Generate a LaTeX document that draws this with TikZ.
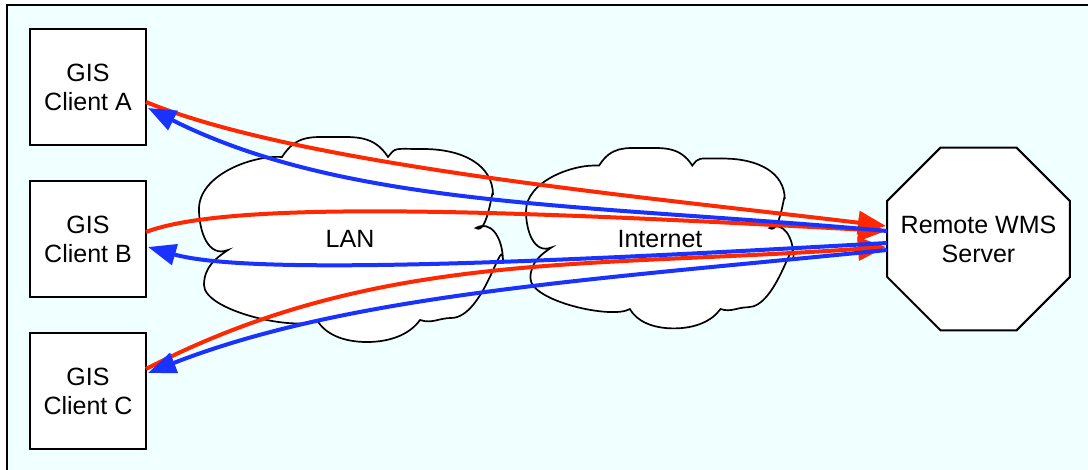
\documentclass[tikz,border=0pt]{standalone}
\usepackage{fontspec}
\setmainfont{Liberation Sans}
\usetikzlibrary{arrows.meta,calc,shapes.geometric}

\definecolor{paneback}{RGB}{240,255,255}
\definecolor{reqred}{RGB}{255,40,0}
\definecolor{respblue}{RGB}{25,50,255}
\newcommand\diagfont{\fontsize{12.5}{14.5}\selectfont}

\tikzset{
  client/.style={draw,line width=1pt,fill=white,minimum width=58pt,minimum height=58pt,
    inner sep=0pt,outer sep=0pt,align=center,font=\diagfont},
  server/.style={draw,line width=1pt,fill=white,regular polygon,regular polygon sides=8,
    minimum size=99pt,inner sep=0pt,outer sep=0pt},
  servertext/.style={align=center,font=\diagfont},
  cloudline/.style={draw,fill=white,line width=0.85pt},
  req/.style={draw=reqred,line width=2pt,-{Triangle[length=14pt,width=11.5pt]}},
  resp/.style={draw=respblue,line width=2pt,-{Triangle[length=14pt,width=10.5pt]}},
  % six-lobed cloud outline, origin at its top-left corner
  cloudbody/.pic={
    \path[cloudline] (83,-20) .. controls +(14,22) and +(-22,0) .. (134,0)
      .. controls +(22,0) and +(-14,22) .. (189,-20)
      .. controls +(8,10) and +(-30,0) .. (224,-12)
      .. controls +(40,0) and +(0,30) .. (294,-58)
      .. controls +(0,14) and +(12,-8) .. (277,-91)
      .. controls +(14,8) and +(0,26) .. (304,-125)
      .. controls +(0,34) and +(34,0) .. (252,-181)
      .. controls +(-12,0) and +(12,-4) .. (221,-183)
      .. controls +(-10,-14) and +(24,0) .. (168,-205)
      .. controls +(-24,0) and +(8,-14) .. (118,-183)
      .. controls +(-20,-12) and +(0,-26) .. (5,-148)
      .. controls +(0,18) and +(-12,-8) .. (29,-113)
      .. controls +(-20,-8) and +(0,-22) .. (0,-72)
      .. controls +(0,34) and +(-30,2) .. (83,-20) -- cycle;
  }
}

\begin{document}
\begin{tikzpicture}[x=0.5pt,y=0.5pt]
  \useasboundingbox (0,0) rectangle (1088,-470);
  \fill[white] (0,0) rectangle (1088,-470);
  \draw[line width=1pt,fill=paneback] (6.5,-5.5) rectangle (1100,-480);

  % network clouds
  \pic at (199,-137) {cloudbody};
  \pic[scale=0.88] at (526,-148) {cloudbody};
  \node[font=\diagfont] (lan) at (350,-239) {LAN};
  \node[font=\diagfont] (inet) at (660,-239) {Internet};

  % clients and server
  \node[client] (ca) at (88,-87) {GIS\\Client A};
  \node[client] (cb) at (88,-239) {GIS\\Client B};
  \node[client] (cc) at (88,-391) {GIS\\Client C};
  \node[server,label={[servertext]center:Remote WMS\\Server}] (srv) at (978.5,-239) {};

  % requests
  \draw[req] ($(ca.east)+(0,-15)$) .. controls +(154,-63) and +(-250,30) .. ($(srv.west)+(-1,13)$);
  \draw[req] ($(cb.east)+(0,7)$) .. controls +(84,32) and +(-385,21) .. ($(srv.west)+(-1,8)$);
  \draw[req] ($(cc.east)+(0,22)$) .. controls +(230,119) and +(-300,-21) .. ($(srv.west)+(-1,-8)$);

  % responses
  \draw[resp] ($(srv.west)+(0,8)$) .. controls +(-300,27) and +(200,-100) .. ($(ca.east)+(2,-21)$);
  \draw[resp] ($(srv.west)+(0,-4)$) .. controls +(-336,-19) and +(102,-29) .. ($(cb.east)+(2,-8)$);
  \draw[resp] ($(srv.west)+(0,-11)$) .. controls +(-300,-30) and +(200,78) .. ($(cc.east)+(2,18)$);
\end{tikzpicture}
\end{document}
